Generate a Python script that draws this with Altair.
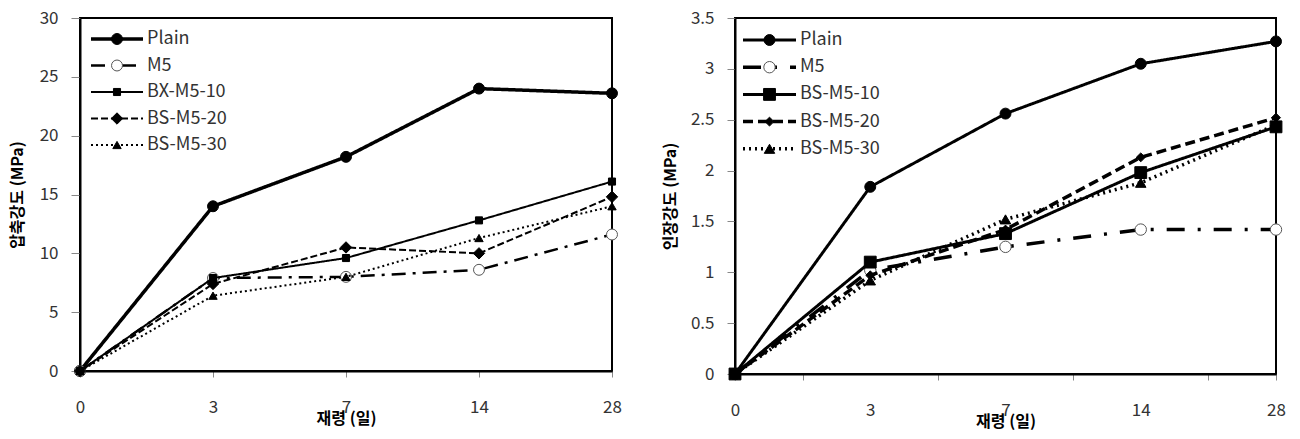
import altair as alt
import pandas as pd

# ---------------- data ----------------
days = ["0", "3", "7", "14", "28"]

series_left = ["Plain", "M5", "BX-M5-10", "BS-M5-20", "BS-M5-30"]
comp_plain = [0, 14.0, 18.2, 24.0, 23.6]
comp_m5 = [0, 7.9, 8.0, 8.6, 11.6]
comp_bx10 = [0, 7.9, 9.6, 12.8, 16.1]
comp_bs20 = [0, 7.4, 10.5, 10.0, 14.8]
comp_bs30 = [0, 6.4, 8.0, 11.3, 14.0]

series_right = ["Plain", "M5", "BS-M5-10", "BS-M5-20", "BS-M5-30"]
tens_plain = [0, 1.84, 2.56, 3.05, 3.27]
tens_m5 = [0, 1.02, 1.25, 1.42, 1.42]
tens_bs10 = [0, 1.10, 1.38, 1.98, 2.43]
tens_bs20 = [0, 0.97, 1.42, 2.13, 2.52]
tens_bs30 = [0, 0.92, 1.52, 1.88, 2.45]

comp_ticks = [0, 5, 10, 15, 20, 25, 30]
tens_ticks = [0, 0.5, 1, 1.5, 2, 2.5, 3, 3.5]

# ---------------- styles ----------------
FONT = "Noto Sans CJK KR"
LABEL_COLOR = "#333333"

style_left = [
    dict(w=3.5, dash=[1, 0], shape="circle", size=120, fill="black", stroke="black"),
    dict(w=2.5, dash=[14, 7, 3, 7], shape="circle", size=120, fill="white", stroke="#555555"),
    dict(w=2, dash=[1, 0], shape="square", size=50, fill="black", stroke="black"),
    dict(w=2, dash=[7, 3], shape="diamond", size=130, fill="black", stroke="black"),
    dict(w=2, dash=[2, 3], shape="triangle-up", size=70, fill="black", stroke="black"),
]
style_right = [
    dict(w=3, dash=[1, 0], shape="circle", size=120, fill="black", stroke="black"),
    dict(w=3.5, dash=[18, 13, 3, 13], shape="circle", size=130, fill="white", stroke="#555555"),
    dict(w=3, dash=[1, 0], shape="square", size=140, fill="black", stroke="black"),
    dict(w=3.5, dash=[10, 5], shape="diamond", size=80, fill="black", stroke="black"),
    dict(w=3.5, dash=[2, 4], shape="triangle-up", size=110, fill="black", stroke="black"),
]


def panel(series, values, ydomain, yticks, ytitle, width, height, style,
          mid_ticks, leg, y_tick_size, y_label_pad, y_title_pad):
    rows = []
    for s, vals in zip(series, values):
        for i, v in enumerate(vals):
            rows.append({"series": s, "idx": i, "value": v})
    df = pd.DataFrame(rows)

    lab_arr = "[" + ",".join("'" + d + "'" for d in days) + "]"
    if mid_ticks:
        xvals = [i * 0.5 for i in range(2 * (len(days) - 1) + 1)]
        xaxis = alt.Axis(
            values=xvals,
            labelExpr="datum.value % 1 == 0 ? " + lab_arr + "[datum.value] : ''",
            tickOpacity={"condition": {"test": "datum.value % 1 == 0 && datum.value > 0 && datum.value < 4", "value": 0}, "value": 1},
            tickSize=6, labelPadding=22, titlePadding=-5,
        )
    else:
        xaxis = alt.Axis(
            values=list(range(len(days))),
            labelExpr=lab_arr + "[datum.value]",
            tickSize=6, labelPadding=22, titlePadding=-5,
        )
    x = alt.X("idx:Q", title="재령 (일)",
              scale=alt.Scale(domain=[0, len(days) - 1], nice=False, zero=False),
              axis=xaxis)
    y = alt.Y("value:Q", title=ytitle,
              scale=alt.Scale(domain=ydomain, nice=False, zero=True),
              axis=alt.Axis(values=yticks, labelExpr="'' + datum.value",
                            tickSize=y_tick_size, labelPadding=y_label_pad,
                            titlePadding=y_title_pad))

    layers = []
    for k, s in enumerate(series):
        st = style[k]
        base = alt.Chart(df).transform_filter(alt.datum.series == s)
        layers.append(base.mark_line(color="black", strokeWidth=st["w"],
                                     strokeDash=st["dash"]).encode(x=x, y=y))
        layers.append(base.mark_point(shape=st["shape"], size=st["size"], filled=True,
                                      fill=st["fill"], stroke=st["stroke"],
                                      strokeWidth=1, opacity=1).encode(x=x, y=y))

    # custom legend (line + marker + text), inside the plot, top-left
    for k, s in enumerate(series):
        st = style[k]
        ly = leg["top"] + k * leg["step"]
        ldf = pd.DataFrame({"series": [s]})
        lb = alt.Chart(ldf)
        layers.append(lb.mark_rule(color="black", strokeWidth=st["w"], strokeDash=st["dash"]).encode(
            x=alt.value(leg["x0"]), x2=alt.value(leg["x1"]), y=alt.value(ly)))
        layers.append(lb.mark_point(shape=st["shape"], size=st["size"], filled=True,
                                    fill=st["fill"], stroke=st["stroke"], strokeWidth=1,
                                    opacity=1).encode(
            x=alt.value((leg["x0"] + leg["x1"]) / 2), y=alt.value(ly)))
        layers.append(lb.mark_text(align="left", baseline="middle", font=FONT, fontSize=18,
                                   color=LABEL_COLOR).encode(
            x=alt.value(leg["tx"]), y=alt.value(ly), text="series:N"))

    return alt.layer(*layers).properties(width=width, height=height)


left = panel(series_left, [comp_plain, comp_m5, comp_bx10, comp_bs20, comp_bs30],
             [0, 30], comp_ticks, "압축강도 (MPa)", 532, 353, style_left, False,
             dict(top=21, step=26.5, x0=11, x1=63, tx=67),
             y_tick_size=9, y_label_pad=13, y_title_pad=14)
right = panel(series_right, [tens_plain, tens_m5, tens_bs10, tens_bs20, tens_bs30],
              [0, 3.5], tens_ticks, "인장강도 (MPa)", 541, 356, style_right, True,
              dict(top=22, step=27.2, x0=8, x1=61, tx=65),
              y_tick_size=8, y_label_pad=13, y_title_pad=12)

chart = alt.hconcat(left, right, spacing=38).properties(
    padding={"left": 0, "top": 0, "right": 0, "bottom": 0},
    background="white",
).configure_view(
    stroke="black", strokeWidth=2
).configure_axis(
    grid=False,
    domainColor="black", domainWidth=2,
    tickColor="#888888", tickWidth=1,
    labelFont=FONT, labelFontSize=17, labelColor=LABEL_COLOR,
    titleFont=FONT, titleFontSize=16, titleFontWeight="bold", titleColor="black",
    labelFlush=False,
)

chart.save("out.html", embed_options={"renderer": "svg", "actions": False})
